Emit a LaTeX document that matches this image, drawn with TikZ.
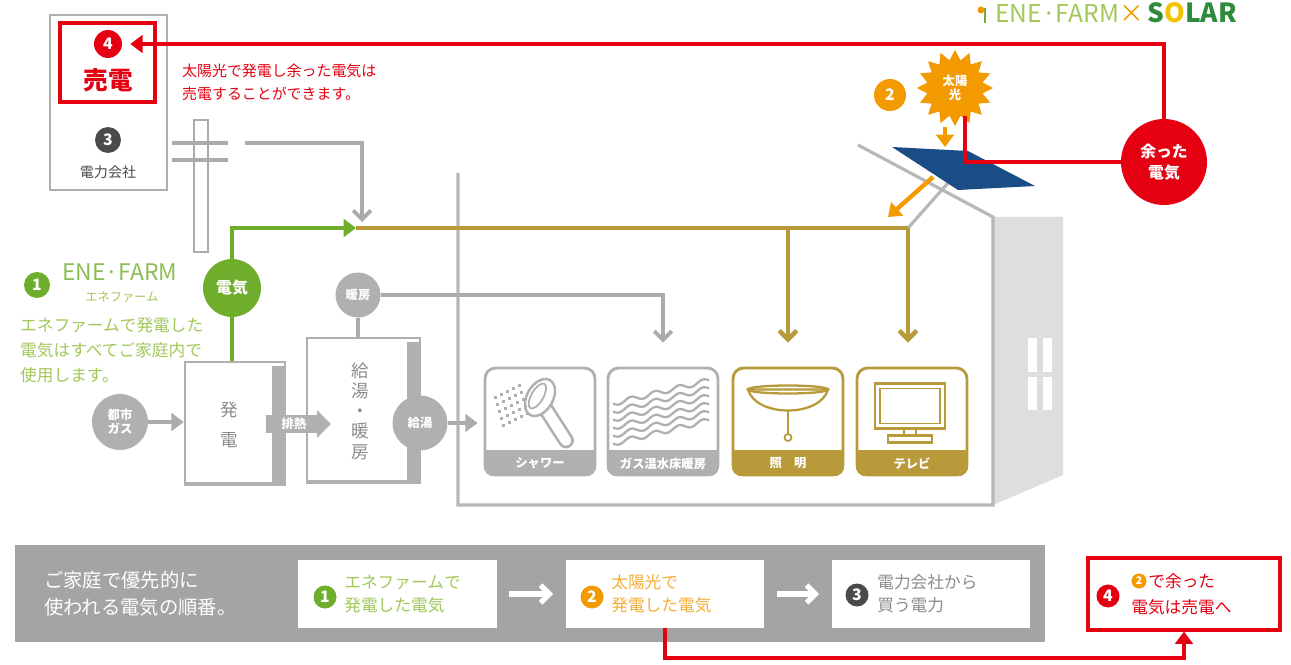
\documentclass[tikz,border=0pt]{standalone}
\usepackage{fontspec}
\setmainfont{Noto Sans CJK JP}
\usetikzlibrary{positioning,arrows.meta,calc,shapes.geometric,shapes.arrows}
\definecolor{linegray}{HTML}{ABABAB}
\definecolor{boxgray}{HTML}{B0B0B0}
\definecolor{housegray}{HTML}{B8B8B8}
\definecolor{sidewall}{HTML}{DEDEDE}
\definecolor{bandgray}{HTML}{A4A4A4}
\definecolor{textgray}{HTML}{8C8C8C}
\definecolor{darkgray3}{HTML}{4A4A4A}
\definecolor{gold}{HTML}{B89A3A}
\definecolor{leaf}{HTML}{6FAE2C}
\definecolor{leaftext}{HTML}{A2C85A}
\definecolor{solargreen}{HTML}{2F8A3C}
\definecolor{sellred}{HTML}{E50012}
\definecolor{sunorange}{HTML}{F39A00}
\definecolor{sunyellow}{HTML}{F5C400}
\definecolor{panel}{HTML}{1A4C86}
\newcommand{\fsz}[2]{\fontsize{#1}{#2}\selectfont}
% appliance card with a coloured label band
\newcommand{\appliance}[4]{%
  \node[appbox=#3] (#1) at (#2,421.5) {};
  \begin{scope}
    \clip[rounded corners=6pt] (#1.south west) rectangle (#1.north east);
    \fill[#3] (#1.south west) rectangle ($(#1.south east)+(0,-26)$);
  \end{scope}
  \node[text=white, font=\bfseries\fsz{7}{7}] (#1-label) at ($(#1.south)+(0,-13)$) {#4};
}

\begin{document}
\begin{tikzpicture}[x=0.02cm,y=-0.02cm,
  grayline/.style={linegray, line width=2.2pt},
  goldline/.style={gold, line width=2.6pt},
  redline/.style={sellred, line width=2.4pt},
  barb/.style={-{Straight Barb[length=5pt,width=10pt]}},
  tri/.style={-{Triangle[length=7pt,width=10pt]}},
  disc/.style={circle, fill=#1, text=white, inner sep=0pt, align=center, font=\bfseries\fsz{7}{8}},
  num/.style={circle, fill=#1, text=white, inner sep=0pt, minimum size=0.52cm, font=\bfseries\fsz{9}{9}},
  unitbox/.style={draw=boxgray, line width=1.4pt, fill=white, inner sep=0pt},
  appbox/.style={draw=#1, line width=1.6pt, fill=white, rounded corners=6pt,
    minimum width=2.2cm, minimum height=2.14cm, inner sep=0pt},
  stepcard/.style={fill=white, minimum width=3.98cm, minimum height=1.36cm, inner sep=0pt},
  cardtext/.style={anchor=west, align=left, inner sep=0pt, font=\fsz{9.5}{13}},
]
\clip (0,0) rectangle (1291,665);
\fill[white] (0,0) rectangle (1291,665);

% logo
\draw[leaf, line width=1pt] (985,23) -- (985,8);
\fill[sunorange] (981,10) circle (0.07cm);
\node[anchor=base west, inner sep=0pt] (logo) at (995,23)
  {\fsz{14}{14}\textcolor{leaftext}{ENE·FARM}\textcolor{sunorange}{×}\,%
   \textcolor{solargreen}{\bfseries\fsz{15}{15}S\textcolor{sunyellow}{O}LAR}};

% house
\fill[sidewall] (993,217) -- (1063,217) -- (1063,475) -- (993,505) -- cycle;
\foreach \wx in {1028,1043} {
  \fill[white] (\wx,338) rectangle ++(9,34);
  \fill[white] (\wx,377) rectangle ++(9,33);
}
\draw[housegray, line width=1.8pt] (458,173) -- (458,505) -- (993,505) -- (993,217) -- (858,145);
\draw[housegray, line width=1.8pt] (908,228) -- (948,183);

% power company
\node[unitbox, minimum width=2.34cm, minimum height=3.5cm] (company) at (108.5,102.5) {};
\node[draw=sellred, line width=2pt, fill=white, minimum width=1.9cm, minimum height=1.58cm, inner sep=0pt] (sellbox) at (107.5,62.5) {};
\node[num=sellred, minimum size=0.56cm] (no4) at (108,44) {4};
\node[text=sellred, font=\bfseries\fsz{14}{14}] (sell) at (108,80) {売電};
\node[num=darkgray3] (no3) at (108,140) {3};
\node[text=darkgray3, font=\fsz{8}{8}] (companylabel) at (108,172) {電力会社};
\node[anchor=north west, align=left, text=sellred, font=\fsz{8.5}{13}] (selltext) at (176,58)
  {太陽光で発電し余った電気は\\売電することができます。};

% utility pole and grid wire
\draw[linegray, line width=1.2pt, fill=white] (194,120) rectangle (208,252);
\draw[grayline] (172,143) -- (228,143);
\draw[grayline] (172,160) -- (228,160);
\coordinate (wire) at (245,143);
\coordinate (gridtip) at (362,222);
\coordinate (greentip) at (356,228);
\coordinate (roofcorner) at (908,228);
\draw[grayline, barb] (wire) -| (gridtip);

% solar panel and sun
\fill[panel] (892,147) -- (968,151) -- (1035,186) -- (958,190) -- cycle;
\node[star, star points=16, star point ratio=1.35, fill=sunorange, minimum size=1.52cm,
  inner sep=0pt, text=white, align=center, font=\bfseries\fsz{7}{8}] (sun) at (955,88) {太陽\\光};
\node[num=sunorange, minimum size=0.64cm] (no2) at (890,95) {2};
\coordinate (panelin) at (945,147);
\coordinate (panelout) at (933,177);
\coordinate (feed) at (888,217);
\coordinate (sunout) at (965,116);
\draw[sunorange, line width=2.5pt, tri] (sun.south -| panelin) -- (panelin);
\draw[sunorange, line width=2.5pt, tri] (panelout) -- (feed);

% surplus goes back to the grid
\node[disc=sellred, minimum size=1.72cm, font=\bfseries\fsz{9}{12}] (surplus) at (1164,162) {余った\\電気};
\draw[redline] (sunout) |- (surplus.west);
\draw[redline, tri, shorten >=0.16cm] (surplus.north) |- (no4.east);

% appliances
\appliance{shower}{540}{boxgray}{シャワー}
\appliance{floor}{663}{boxgray}{ガス温水床暖房}
\appliance{light}{788}{gold}{照\hspace{1em}明}
\appliance{tv}{912}{gold}{テレビ}

% shower head
\begin{scope}[shift={(shower.center)}]
  \draw[boxgray, line width=9pt, line cap=round] (6,-12) -- (26,19);
  \draw[white, line width=6pt, line cap=round] (6,-12) -- (26,19);
  \draw[boxgray, line width=1.4pt, fill=white, rotate around={-30:(0,-24)}] (0,-24) ellipse (0.26cm and 0.4cm);
  \draw[boxgray, line width=1pt, rotate around={-30:(0,-24)}] (-3,-24) ellipse (0.12cm and 0.28cm);
  \foreach \i in {0,...,4} {
    \foreach \j in {0,...,4} {
      \fill[boxgray] ({-46+\i*6+\j*2},{-26+\j*7-\i*3}) rectangle ++(3,3);
    }
  }
\end{scope}
% floor heating panels
\begin{scope}[shift={(floor.center)}]
  \foreach \k in {0,...,5} {
    \draw[boxgray, line width=1.3pt, domain=0:96, samples=40, smooth, variable=\t]
      plot ({-50+\t}, {22-\k*8-0.24*\t+2.5*sin(\t*15)});
  }
\end{scope}
% ceiling light
\begin{scope}[shift={(light.center)}, gold, line width=1.3pt]
  \draw[fill=white] (-40,-32) .. controls (-32,-4) and (32,-4) .. (40,-32) -- cycle;
  \draw (0,-32) ellipse (0.8cm and 0.08cm);
  \draw[line width=1pt] (0,-11) -- (0,12);
  \draw[line width=1pt] (0,16) circle (0.07cm);
\end{scope}
% television
\begin{scope}[shift={(tv.center)}, gold]
  \draw[line width=1.3pt] (-37,-38) rectangle (33,7);
  \draw[line width=1pt] (-32,-33) rectangle (28,2);
  \draw[line width=1pt] (-8,7) rectangle (4,14);
  \draw[line width=1.3pt] (-24,14) rectangle (20,21);
\end{scope}

% ene-farm units
\node[unitbox, minimum width=2cm, minimum height=2.46cm] (gen) at (235,423.5) {};
\fill[boxgray] ($(gen.north east)+(-14,5)$) rectangle (gen.south east);
\fill[boxgray] ($(gen.south west)+(0,-4)$) rectangle (gen.south east);
\node[text=textgray, align=center, font=\fsz{10}{17}] (genlabel) at (229,425) {発\\電};
\node[unitbox, minimum width=2.26cm, minimum height=2.9cm] (hot) at (363.5,410.5) {};
\fill[boxgray] ($(hot.north east)+(-14,5)$) rectangle (hot.south east);
\fill[boxgray] ($(hot.south west)+(0,-4)$) rectangle (hot.south east);
\node[text=textgray, align=center, font=\fsz{10}{11.5}] (hotlabel) at (360,411) {給\\湯\\・\\暖\\房};
\node[single arrow, fill=boxgray, text=white, font=\bfseries\fsz{7}{7}, minimum height=1.3cm,
  single arrow head extend=3pt, inner sep=1.5pt] (exhaust) at (294,424) {排熱};

\node[disc=boxgray, minimum size=1.12cm] (gas) at (120,422) {都市\\ガス};
\draw[grayline, tri] (gas.east) -- (gas.east -| gen.west);
\node[disc=boxgray, minimum size=1.1cm] (hotwater) at (420,423) {給湯};
\draw[grayline, tri, shorten >=0.12cm] (hotwater.east) -- (hotwater.east -| shower.west);

% heating line
\node[disc=boxgray, minimum size=0.9cm] (heating) at (358,295) {暖房};
\draw[grayline] (heating.south) -- (heating.south |- hot.north);
\draw[grayline, barb, shorten >=0.48cm] (heating.east) -| (floor.north);

% electricity from the fuel cell
\node[disc=leaf, minimum size=1.16cm, font=\bfseries\fsz{9}{9}] (elec) at (232,288) {電気};
\draw[leaf, line width=2.6pt] (elec.south) -- (elec.south |- gen.north);
\draw[goldline] (greentip) -- (roofcorner);
\draw[leaf, line width=2.6pt, tri] (elec.north) |- (greentip);
\draw[goldline, barb, shorten >=0.48cm] (roofcorner) -- (roofcorner |- tv.north);
\draw[goldline, barb, shorten >=0.48cm] (light.north |- roofcorner) -- (light.north);

% ene-farm caption
\node[num=leaf] (no1) at (37,285) {1};
\node[anchor=west, text=leaf!80!white, font=\fsz{13}{13}] (brand) at (56,272) {ENE·FARM};
\node[text=leaftext, font=\fsz{7}{7}] (brandjp) at (122,297) {エネファーム};
\node[anchor=north west, align=left, text=leaftext, font=\fsz{9.5}{14.2}] (brandtext) at (14,311)
  {エネファームで発電した\\電気はすべてご家庭内で\\使用します。};

% order of use
\node[fill=bandgray, minimum width=20.6cm, minimum height=1.94cm, inner sep=0pt] (order) at (530,593.5) {};
\node[anchor=west, align=left, text=white, font=\fsz{11}{15.3}] (ordertitle) at (38,594)
  {ご家庭で優先的に\\使われる電気の順番。};
\node[stepcard] (step1) at (397.5,594) {};
\node[stepcard] (step2) at (665,594) {};
\node[stepcard] (step3) at (931,594) {};
\node[num=leaf, minimum size=0.46cm] (s1num) at (325,597) {1};
\node[cardtext, text=leaftext] (s1text) at (344,594) {エネファームで\\発電した電気};
\node[num=sunorange, minimum size=0.46cm] (s2num) at (592,597) {2};
\node[cardtext, text=sunorange!80!white] (s2text) at (611,594) {太陽光で\\発電した電気};
\node[num=darkgray3, minimum size=0.46cm] (s3num) at (857,595) {3};
\node[cardtext, text=textgray] (s3text) at (877,594) {電力会社から\\買う電力};
\draw[white, line width=3pt, barb, shorten <=0.24cm, shorten >=0.24cm] (step1.east) -- (step2.west);
\draw[white, line width=3pt, barb, shorten <=0.24cm, shorten >=0.24cm] (step2.east) -- (step3.west);

\node[draw=sellred, line width=1.8pt, fill=white, minimum width=3.84cm, minimum height=1.44cm, inner sep=0pt] (step4) at (1184,594) {};
\node[num=sellred, minimum size=0.46cm] (s4num) at (1108,596) {4};
\node[num=sunorange, minimum size=0.3cm, font=\bfseries\fsz{6}{6}] (s4two) at (1139,581) {2};
\node[anchor=west, inner sep=0pt, text=sellred, font=\fsz{9.5}{13}] (s4top) at (1148,581) {で余った};
\node[anchor=west, inner sep=0pt, text=sellred, font=\fsz{9.5}{13}] (s4bottom) at (1131,607) {電気は売電へ};
\draw[redline, tri] (step2.south) -- ++(0,30) -| (step4.south);
\end{tikzpicture}
\end{document}
